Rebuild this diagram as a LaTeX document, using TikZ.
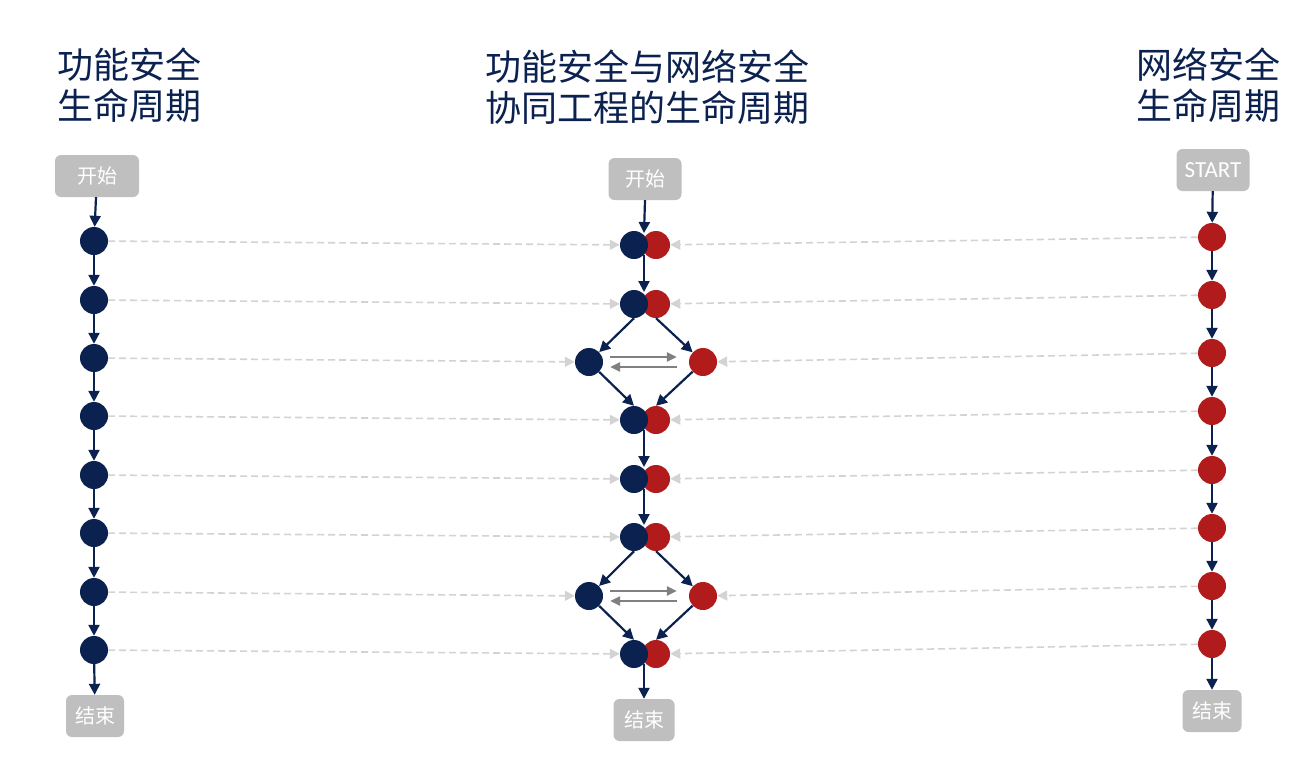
\documentclass[tikz,border=0pt]{standalone}
\usepackage{fontspec}
\setmainfont{Noto Sans CJK SC}
\newfontfamily\latinf{Carlito}
\usetikzlibrary{arrows.meta}
\definecolor{navy}{HTML}{0B2150}
\definecolor{dred}{HTML}{B21B1B}
\definecolor{boxgray}{HTML}{BFBFBF}
\definecolor{dashgray}{HTML}{D3D3D3}
\definecolor{midgray}{HTML}{808080}
\begin{document}
\begin{tikzpicture}[x=1pt,y=-1pt,
 bdot/.style={circle,fill=navy,minimum size=28pt,inner sep=0pt},
 rdot/.style={circle,fill=dred,minimum size=28pt,inner sep=0pt},
 termbox/.style={rounded corners=6pt,fill=boxgray,text=white,font=\fontsize{20}{24}\selectfont,minimum height=42pt,inner sep=0pt},
 flow/.style={draw=navy,line width=2.2pt,-{Triangle[length=11pt,width=11pt]}},
 link/.style={draw=dashgray,line width=1.6pt,dash pattern=on 7pt off 4pt,-{Triangle[length=10pt,width=10pt]}},
 swap/.style={draw=midgray,line width=2.3pt,-{Triangle[length=10pt,width=9pt]}},
 title/.style={text=navy,font=\fontsize{36}{40.5}\selectfont,inner sep=0pt}
]
\useasboundingbox (0,0) rectangle (1313,771);

% titles
\node[title,align=left,anchor=west] (T1) at (57,85) {功能安全\\生命周期};
\node[title,align=center] (T2) at (647,87) {功能安全与网络安全\\协同工程的生命周期};
\node[title,align=left,anchor=west] (T3) at (1136,85) {网络安全\\生命周期};

% terminal boxes
\node[termbox,minimum width=84pt] (Ls) at (97,176) {开始};
\node[termbox,minimum width=58pt] (Le) at (95,716) {结束};
\node[termbox,minimum width=73pt] (Ms) at (645,179) {开始};
\node[termbox,minimum width=61pt] (Me) at (644,720) {结束};
\node[termbox,minimum width=73pt,font=\latinf\fontsize{23}{26}\selectfont] (Rs) at (1213,170) {START};
\node[termbox,minimum width=59pt] (Re) at (1212,711) {结束};

% left column
\foreach \y [count=\i] in {241,300,358,416,475,533,592,650}
  \node[bdot] (L\i) at (94,\y) {};
% right column
\foreach \y [count=\i] in {237,295,353,411,470,528,586,644}
  \node[rdot] (R\i) at (1212,\y) {};

% middle column
\foreach \y/\i in {245/1,304/2,420/4,479/5,537/6,654/8}{
  \node[rdot] (M\i r) at (656,\y) {};
  \node[bdot] (M\i b) at (634,\y) {};
  \coordinate (M\i t) at (644,\y-12);
  \coordinate (M\i d) at (644,\y+10);
}
\node[bdot] (M3b) at (589,362) {};
\node[rdot] (M3r) at (703,362) {};
\node[bdot] (M7b) at (589,596) {};
\node[rdot] (M7r) at (703,596) {};

% left flow
\draw[flow] (Ls) -- (L1);
\foreach \i/\j in {1/2,2/3,3/4,4/5,5/6,6/7,7/8}
  \draw[flow] (L\i) -- (L\j);
\draw[flow] (L8) -- (Le);

% right flow
\draw[flow] (Rs) -- (R1);
\foreach \i/\j in {1/2,2/3,3/4,4/5,5/6,6/7,7/8}
  \draw[flow] (R\i) -- (R\j);
\draw[flow] (R8) -- (Re);

% middle flow
\draw[flow] (Ms.south) -- (M1t);
\draw[flow] (M1d) -- (M2t);
\draw[flow] (M2b.south) -- (M3b);
\draw[flow] (M2r.south) -- (M3r);
\draw[flow] (M3b) -- (M4b.north);
\draw[flow] (M3r) -- (M4r.north);
\draw[flow] (M4d) -- (M5t);
\draw[flow] (M5d) -- (M6t);
\draw[flow] (M6b.south) -- (M7b);
\draw[flow] (M6r.south) -- (M7r);
\draw[flow] (M7b) -- (M8b.north);
\draw[flow] (M7r) -- (M8r.north);
\draw[flow] (M8d) -- (Me.north);

% exchange arrows in diamonds
\foreach \k in {3,7}{
  \draw[swap] ([shift={(7,-5)}]M\k b.east) -- ([shift={(-12,-5)}]M\k r.west);
  \draw[swap] ([shift={(-12,5)}]M\k r.west) -- ([shift={(7,5)}]M\k b.east);
}

% dashed links
\foreach \i in {1,...,8}{
  \draw[link] (L\i) -- (M\i b);
  \draw[link] (R\i) -- (M\i r);
}
\end{tikzpicture}
\end{document}
